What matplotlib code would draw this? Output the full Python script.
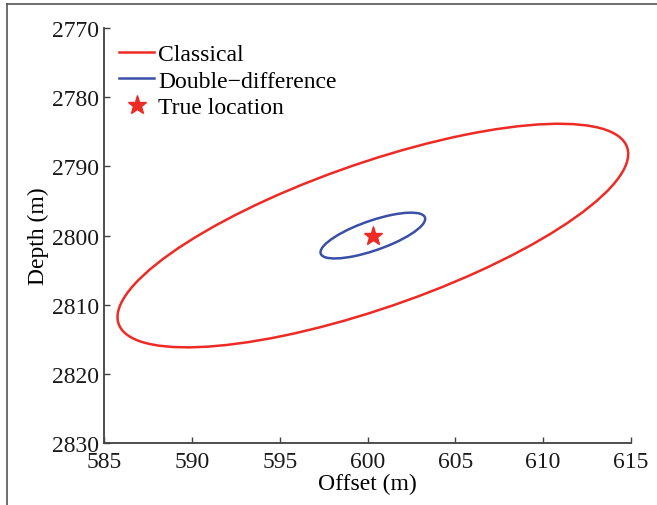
import numpy as np
import matplotlib
matplotlib.use("Agg")
import matplotlib.pyplot as plt
from matplotlib.patches import Ellipse
from matplotlib.lines import Line2D

# ellipse parameters (offset, depth in m)
labels = ["Classical", "Double\u2212difference", "True location"]
centre = (600.3, 2800.0)
red_width, red_height, red_angle = 40.5, 15.9, -49.1
blue_width, blue_height, blue_angle = 8.3, 3.26, -49.1
true_x = [600.3]
true_y = [2800.0]
xticks = [585, 590, 595, 600, 605, 610, 615]
yticks = [2770, 2780, 2790, 2800, 2810, 2820, 2830]

plt.rcParams["font.family"] = ["Liberation Serif", "DejaVu Serif"]
plt.rcParams["font.size"] = 17

fig = plt.figure(figsize=(6.57, 5.06), dpi=100)
ax = fig.add_axes([0.159, 0.1225, 0.801, 0.820])

red = "#ee2a24"
blue = "#3a4fa8"
ax.add_patch(Ellipse(centre, red_width, red_height, angle=red_angle,
                     fill=False, edgecolor=red, lw=1.8))
ax.add_patch(Ellipse(centre, blue_width, blue_height, angle=blue_angle,
                     fill=False, edgecolor=blue, lw=1.8))
ax.plot(true_x, true_y, "*", color=red, ms=14, mec=red)

ax.set_xlim(585, 615)
ax.set_ylim(2830, 2770)
ax.set_xticks(xticks)
ax.set_yticks(yticks)
ax.set_xlabel("Offset (m)", labelpad=1)
ax.set_ylabel("Depth (m)", labelpad=2)
for s in ["top", "right"]:
    ax.spines[s].set_visible(False)
for s in ["left", "bottom"]:
    ax.spines[s].set_color("#404040")
    ax.spines[s].set_linewidth(1.3)
ax.tick_params(direction="in", length=4, width=1.0, color="#404040", pad=4,
               labelcolor="#1a1a1a")
ax.tick_params(axis="x", pad=5.5)

handles = [Line2D([], [], color=red, lw=1.8),
           Line2D([], [], color=blue, lw=1.8),
           Line2D([], [], ls="", marker="*", color=red, ms=14)]
ax.legend(handles, labels, loc="upper left", frameon=False,
          handlelength=1.45, handletextpad=0.2, labelspacing=0.2,
          borderaxespad=0.0, bbox_to_anchor=(0.0105, 0.985))

# thin frame round the picture
fig.add_artist(Line2D([7/657, 1], [1 - 5/506, 1 - 5/506], color="#555555", lw=1.2))
fig.add_artist(Line2D([7/657, 7/657], [0, 1 - 5/506], color="#555555", lw=1.2))

fig.savefig("out.png", dpi=100)
